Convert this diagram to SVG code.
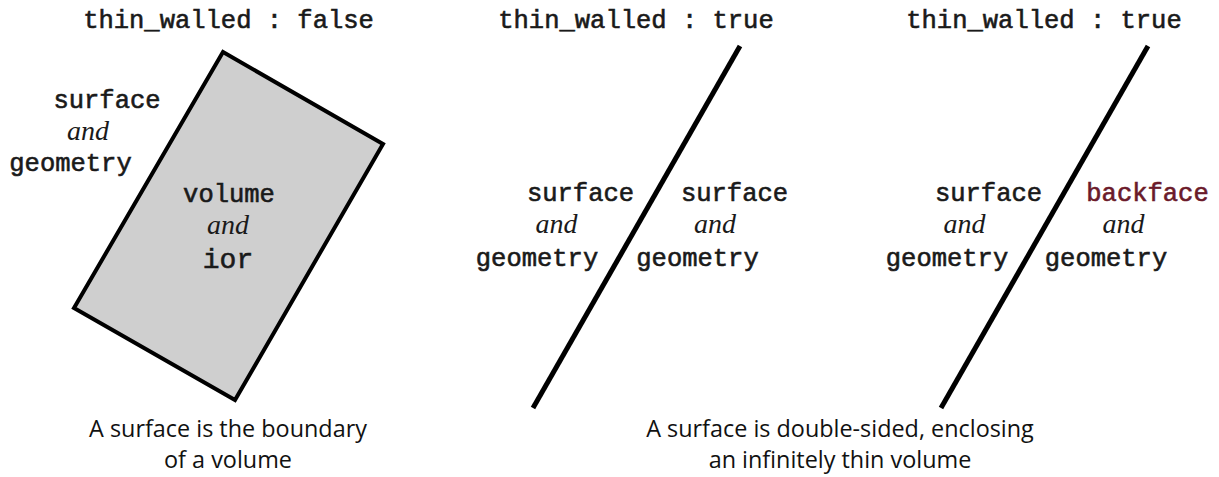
<svg xmlns="http://www.w3.org/2000/svg" width="1219" height="477" viewBox="0 0 1219 477">
<style>
.m{font-family:"Liberation Mono","Courier New",monospace;font-weight:normal;font-size:25.5px;fill:#1a1a1a;stroke:#1a1a1a;stroke-width:0.6px;text-anchor:middle}
.a{font-family:"Liberation Serif","Times New Roman",serif;font-style:italic;font-size:28px;fill:#1a1a1a;text-anchor:middle}
.c{font-family:"Open Sans","Noto Sans",sans-serif;font-size:23.4px;fill:#111;text-anchor:middle}
.bf{fill:#6b1a2a;stroke:#6b1a2a}
</style>
<rect width="1219" height="477" fill="#fff"/>
<g id="panel-left">
<text class="m" x="228.5" y="28">thin_walled : false</text>
<polygon points="223,52 383,144 235,400 74,308" fill="#cfcfcf" stroke="#000" stroke-width="4" stroke-linejoin="miter"/>
<text class="m" x="107" y="108">surface</text>
<text class="a" x="88" y="140">and</text>
<text class="m" x="70.5" y="171">geometry</text>
<text class="m" x="229" y="202">volume</text>
<text class="a" x="228" y="234">and</text>
<text class="m" x="228" y="268" style="font-size:28px">ior</text>
<text class="c" x="228" y="437">A surface is the boundary</text>
<text class="c" x="228" y="468">of a volume</text>
</g>
<g id="panel-middle">
<text class="m" x="636" y="28">thin_walled : true</text>
<line x1="740" y1="46" x2="533" y2="408" stroke="#000" stroke-width="5"/>
<text class="m" x="580.5" y="201">surface</text>
<text class="a" x="556.5" y="233">and</text>
<text class="m" x="537" y="266">geometry</text>
<text class="m" x="734.5" y="201">surface</text>
<text class="a" x="715" y="233">and</text>
<text class="m" x="697.5" y="266">geometry</text>
</g>
<g id="panel-right">
<text class="m" x="1044" y="28">thin_walled : true</text>
<line x1="1148" y1="46" x2="941" y2="408" stroke="#000" stroke-width="5"/>
<text class="m" x="988.5" y="201">surface</text>
<text class="a" x="964.5" y="233">and</text>
<text class="m" x="947" y="266">geometry</text>
<text class="m bf" x="1147.5" y="201">backface</text>
<text class="a" x="1123.5" y="233">and</text>
<text class="m" x="1106" y="266">geometry</text>
</g>
<g id="caption-right">
<text class="c" x="840" y="437">A surface is double-sided, enclosing</text>
<text class="c" x="840" y="468">an infinitely thin volume</text>
</g>
<g id="connectors"></g>
</svg>
